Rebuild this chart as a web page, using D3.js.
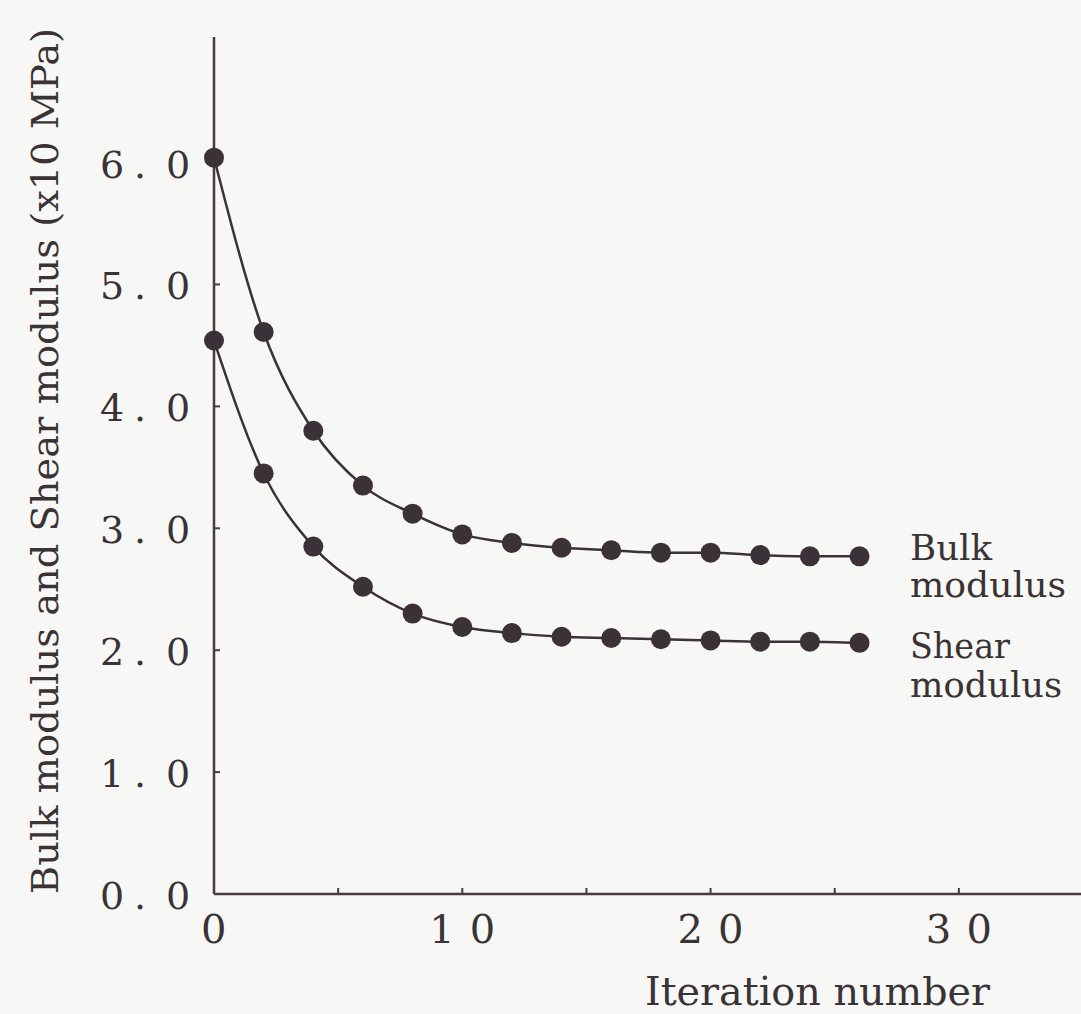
<!DOCTYPE html>
<html>
<head>
<meta charset="utf-8">
<script src="https://cdn.jsdelivr.net/npm/d3@7"></script>
<style>
  html, body { margin: 0; padding: 0; background: #f7f7f5; }
  svg { display: block; }
  text { font-family: "DejaVu Serif", "Liberation Serif", serif; fill: #3a3335; }
</style>
</head>
<body>
<div id="chart"></div>
<script>
// iteration numbers
var iterations = [0, 2, 4, 6, 8, 10, 12, 14, 16, 18, 20, 22, 24, 26];
// bulk modulus (x10 MPa)
var bulkValues = [6.04, 4.61, 3.80, 3.35, 3.12, 2.95, 2.88, 2.84, 2.82, 2.80, 2.80, 2.78, 2.77, 2.77];
// shear modulus (x10 MPa)
var shearValues = [4.54, 3.45, 2.85, 2.52, 2.30, 2.19, 2.14, 2.11, 2.10, 2.09, 2.08, 2.07, 2.07, 2.06];
var xTickValues = [0, 5, 10, 15, 20, 25, 30];
var xLabelValues = [0, 10, 20, 30];
var yTickValues = [0, 1, 2, 3, 4, 5, 6];
var yTickLabels = ['0.0', '1.0', '2.0', '3.0', '4.0', '5.0', '6.0'];
var seriesNames = [['Bulk', 'modulus'], ['Shear', 'modulus']];

var width = 1081, height = 1014;
var ink = '#3a3236';

var svg = d3.select('#chart').append('svg')
    .attr('width', width)
    .attr('height', height)
    .style('background-color', '#f7f7f5');

var x = d3.scaleLinear().domain([0, 35]).range([214, 1083]);
var y = d3.scaleLinear().domain([0, 7.03]).range([894, 37]);

// axes lines
svg.append('line')
    .attr('x1', x(0)).attr('x2', x(0))
    .attr('y1', y(7.03)).attr('y2', y(0))
    .attr('stroke', '#4a3b3c').attr('stroke-width', 2.5);
svg.append('line')
    .attr('x1', x(0)).attr('x2', width)
    .attr('y1', y(0)).attr('y2', y(0))
    .attr('stroke', '#4a3b3c').attr('stroke-width', 2.5);

// inward ticks
svg.selectAll('.xtick').data(xTickValues.filter(function (d) { return d > 0; }))
    .enter().append('line')
    .attr('class', 'xtick')
    .attr('x1', function (d) { return x(d); })
    .attr('x2', function (d) { return x(d); })
    .attr('y1', y(0)).attr('y2', y(0) - 6)
    .attr('stroke', '#4a3b3c').attr('stroke-width', 2);

svg.selectAll('.ytick').data(yTickValues.filter(function (d) { return d > 0; }))
    .enter().append('line')
    .attr('class', 'ytick')
    .attr('x1', x(0)).attr('x2', x(0) + 6)
    .attr('y1', function (d) { return y(d); })
    .attr('y2', function (d) { return y(d); })
    .attr('stroke', '#4a3b3c').attr('stroke-width', 2);

// tick labels: each character in its own cell, typewriter style
var ylab = svg.selectAll('.ylab').data(yTickValues)
    .enter().append('text')
    .attr('class', 'ylab')
    .attr('y', function (d) { return y(d) + 15; })
    .attr('font-size', 38);
ylab.append('tspan')
    .attr('x', 100)
    .text(function (d, i) { return yTickLabels[i].split('.')[0]; });
ylab.append('tspan')
    .attr('x', 134)
    .text('.');
ylab.append('tspan')
    .attr('x', 166)
    .text(function (d, i) { return yTickLabels[i].split('.')[1]; });

svg.selectAll('.xlab').data(xLabelValues)
    .enter().append('text')
    .attr('class', 'xlab')
    .attr('x', function (d) { return d === 0 ? x(d) - 13 : x(d) - 33; })
    .attr('y', 943)
    .attr('font-size', 40)
    .attr('textLength', function (d) { return d === 0 ? null : 66; })
    .attr('lengthAdjust', 'spacing')
    .text(function (d) { return d; });

// axis titles
svg.append('text')
    .attr('x', 645)
    .attr('y', 1005)
    .attr('font-size', 40)
    .attr('textLength', 345)
    .attr('lengthAdjust', 'spacingAndGlyphs')
    .text('Iteration number');

svg.append('text')
    .attr('transform', 'translate(58,894) rotate(-90)')
    .attr('font-size', 38)
    .attr('textLength', 866)
    .attr('lengthAdjust', 'spacingAndGlyphs')
    .text('Bulk modulus and Shear modulus (x10 MPa)');

// curves and points
var series = [bulkValues, shearValues].map(function (vals) {
    return iterations.map(function (it, i) { return { x: it, y: vals[i] }; });
});

var line = d3.line()
    .x(function (d) { return x(d.x); })
    .y(function (d) { return y(d.y); })
    .curve(d3.curveMonotoneX);

svg.selectAll('.curve').data(series)
    .enter().append('path')
    .attr('class', 'curve')
    .attr('d', line)
    .attr('fill', 'none')
    .attr('stroke', ink)
    .attr('stroke-width', 2.5);

series.forEach(function (s) {
    svg.selectAll(null).data(s)
        .enter().append('circle')
        .attr('cx', function (d) { return x(d.x); })
        .attr('cy', function (d) { return y(d.y); })
        .attr('r', 10)
        .attr('fill', ink);
});

// labels at line ends
var legendY = [[560, 597], [658, 697]];
var legendLen = [[82, 156], [100, 152]];
seriesNames.forEach(function (names, i) {
    names.forEach(function (nm, j) {
        svg.append('text')
            .attr('x', 910)
            .attr('y', legendY[i][j])
            .attr('font-size', 36)
            .attr('textLength', legendLen[i][j])
            .attr('lengthAdjust', 'spacingAndGlyphs')
            .text(nm);
    });
});
</script>
</body>
</html>
